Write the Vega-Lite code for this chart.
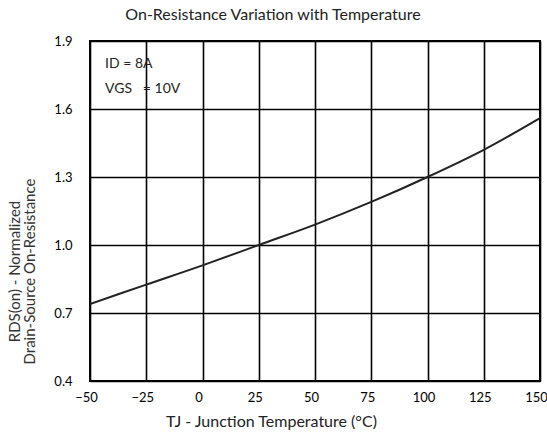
{
  "$schema": "https://vega.github.io/schema/vega-lite/v6.json",
  "width": 450,
  "height": 340,
  "autosize": {"type": "none"},
  "padding": {"left": 90, "top": 41, "right": 7, "bottom": 54},
  "background": "white",
  "config": {
    "view": {"stroke": "black", "strokeWidth": 2},
    "font": "Lato"
  },
  "title": {
    "text": "On-Resistance Variation with Temperature",
    "fontSize": 16,
    "fontWeight": "normal",
    "font": "Lato",
    "color": "#222",
    "anchor": "middle",
    "dx": -42,
    "offset": 12
  },
  "layer": [
    {
      "data": {"values": [
        {"t": -50, "r": 0.74},
        {"t": -25, "r": 0.825},
        {"t": 0, "r": 0.91},
        {"t": 25, "r": 1.0},
        {"t": 50, "r": 1.09},
        {"t": 75, "r": 1.19},
        {"t": 100, "r": 1.30},
        {"t": 125, "r": 1.42},
        {"t": 150, "r": 1.56}
      ]},
      "mark": {"type": "line", "color": "#222", "strokeWidth": 2, "interpolate": "monotone", "clip": true},
      "encoding": {
        "x": {
          "field": "t", "type": "quantitative",
          "scale": {"domain": [-50, 150], "nice": false, "zero": false},
          "axis": {
            "values": [-50, -25, 0, 25, 50, 75, 100, 125, 150],
            "title": "TJ  - Junction Temperature (°C)",
            "titleFont": "Lato", "titleFontSize": 16, "titleFontWeight": "normal", "titleColor": "#222",
            "titleAnchor": "start", "titleAlign": "center", "titleX": 181, "titleY": 40, "titleBaseline": "middle",
            "labelFont": "Lato", "labelFontSize": 13, "labelColor": "#000", "labelPadding": 10,
            "labelFlush": false, "labelOverlap": false, "labelBound": false, "labelOffset": -4,
            "ticks": false, "domain": false,
            "grid": true, "gridColor": "black", "gridWidth": 1.6, "gridOpacity": 1
          }
        },
        "y": {
          "field": "r", "type": "quantitative",
          "scale": {"domain": [0.4, 1.9], "nice": false, "zero": false},
          "axis": {
            "values": [0.4, 0.7, 1.0, 1.3, 1.6, 1.9],
            "format": ".1f",
            "title": ["RDS(on) - Normalized", "Drain-Source On-Resistance"],
            "titleFont": "Lato", "titleFontSize": 15, "titleFontWeight": "normal", "titleColor": "#333",
            "titleLineHeight": 15,
            "titleAnchor": "start", "titleAlign": "center", "titleY": 230, "titleX": -76, "titleBaseline": "middle", "titleAngle": -90,
            "labelFont": "Lato", "labelFontSize": 13, "labelColor": "#000", "labelPadding": 18,
            "labelFlush": false, "labelOverlap": false, "labelBound": false,
            "ticks": false, "domain": false,
            "grid": true, "gridColor": "black", "gridWidth": 1.6, "gridOpacity": 1
          }
        }
      }
    },
    {
      "data": {"values": [
        {"t": -43.3, "r": 1.798, "label": "ID = 8A"},
        {"t": -43.3, "r": 1.688, "label": "VGS\u00a0\u00a0\u00a0= 10V"}
      ]},
      "mark": {"type": "text", "align": "left", "baseline": "middle", "font": "Lato", "fontSize": 14, "color": "#222"},
      "encoding": {
        "x": {"field": "t", "type": "quantitative"},
        "y": {"field": "r", "type": "quantitative"},
        "text": {"field": "label"}
      }
    }
  ]
}
